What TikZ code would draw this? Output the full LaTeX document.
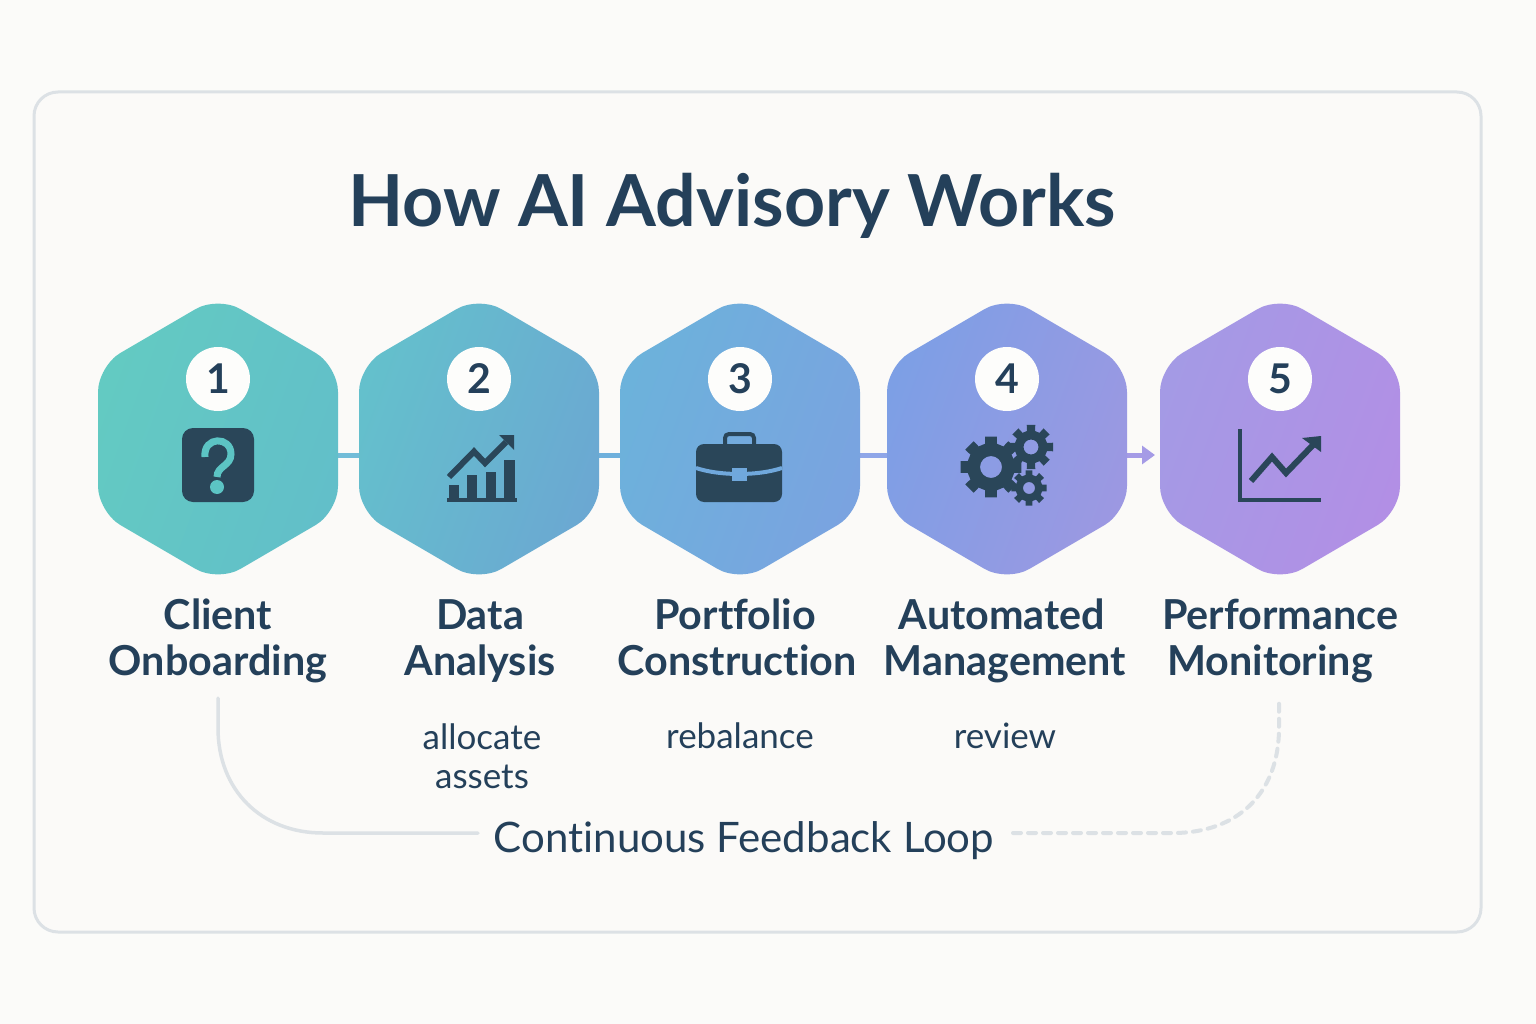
\documentclass[tikz,border=0pt]{standalone}
\usepackage{fontspec}
\setmainfont{Lato}
\newfontfamily\boldfont[Ligatures=NoCommon]{Lato Bold}
\newfontfamily\lightfont[Ligatures=NoCommon]{Lato}
\usetikzlibrary{calc,arrows.meta}
\definecolor{bgcol}{HTML}{FBFBF9}
\definecolor{panelcol}{HTML}{FBFAF8}
\definecolor{framecol}{HTML}{DCE1E5}
\definecolor{inkcol}{HTML}{24405A}
\definecolor{iconcol}{HTML}{2A4659}
\definecolor{discol}{HTML}{FDFDFB}
\definecolor{qcol}{HTML}{5CC4C4}
\definecolor{casecol}{HTML}{70A8DC}
\definecolor{linkA}{HTML}{72BCD8}
\definecolor{linkB}{HTML}{6FB0DC}
\definecolor{linkC}{HTML}{8FA6E8}
\definecolor{linkD}{HTML}{A59BE6}
\definecolor{hA}{HTML}{63CAC2}
\definecolor{hB}{HTML}{62BFC9}
\definecolor{hC}{HTML}{64C0CC}
\definecolor{hD}{HTML}{6BA8D2}
\definecolor{hE}{HTML}{6CB2DB}
\definecolor{hF}{HTML}{7AA3E0}
\definecolor{hG}{HTML}{7D9FE5}
\definecolor{hH}{HTML}{9C98E2}
\definecolor{hI}{HTML}{A49AE5}
\definecolor{hJ}{HTML}{B28FE5}
\tikzset{
  hexbox/.style={minimum width=240pt,minimum height=272pt,inner sep=0pt,outer sep=0pt},
  numdisc/.style={circle,fill=discol,minimum size=64pt,inner sep=0pt,text=inkcol,font=\boldfont\fontsize{41}{41}\selectfont},
  steplabel/.style={align=center,text=inkcol,inner sep=0pt,font=\boldfont\fontsize{41.3}{46}\selectfont},
  sublabel/.style={align=center,text=inkcol,inner sep=0pt,font=\lightfont\fontsize{35}{39}\selectfont},
  linkline/.style={line width=5pt},
  loopline/.style={draw=framecol,line width=3.5pt,line cap=round},
}
% hexagon: #1 node name, #2 left colour, #3 right colour
\newcommand{\hexshape}[3]{%
  \shade[left color=#2,right color=#3,shading angle=70,rounded corners=26pt]
    ($(#1.north)+(0,-7)$) -- ($(#1.north east)+(0,63)$) -- ($(#1.south east)+(0,-63)$)
    -- ($(#1.south)+(0,7)$) -- ($(#1.south west)+(0,-63)$) -- ($(#1.north west)+(0,63)$) -- cycle;
}
% gear: centre x, centre y, outer r, root r, hole r
\newcommand{\gearicon}[5]{%
  \begin{scope}[shift={(#1,#2)}]
  \fill[iconcol,even odd rule] (-14:#4)
    \foreach \a in {0,45,...,315} { -- ({\a-14}:#4) -- ({\a-11}:#3) -- ({\a+11}:#3) -- ({\a+14}:#4) -- ({\a+31}:#4) }
    -- cycle (0,0) circle [radius=#5];
  \end{scope}
}
\begin{document}
\begin{tikzpicture}[x=1pt,y=-1pt]
\useasboundingbox (0,0) rectangle (1536,1024);
\fill[bgcol] (0,0) rectangle (1536,1024);
\draw[draw=framecol,fill=panelcol,line width=3pt,rounded corners=24pt] (34,92) rectangle (1481,932);

\node[text=inkcol,inner sep=0pt,font=\boldfont\fontsize{71.7}{72}\selectfont] (title) at (732,206) {How AI Advisory Works};

\node[hexbox] (h1) at (218,439) {};
\node[hexbox] (h2) at (479,439) {};
\node[hexbox] (h3) at (740,439) {};
\node[hexbox] (h4) at (1007,439) {};
\node[hexbox] (h5) at (1280,439) {};

% connectors
\draw[linkline,draw=linkA] ([yshift=-16pt]h1.east) -- ([yshift=-16pt]h2.west);
\draw[linkline,draw=linkB] ([yshift=-16pt]h2.east) -- ([yshift=-16pt]h3.west);
\draw[linkline,draw=linkC] ([yshift=-16pt]h3.east) -- ([yshift=-16pt]h4.west);
\draw[linkline,draw=linkD,-{Triangle[length=13pt,width=18pt]}] ([yshift=-16pt]h4.east) -- ([yshift=-16pt,xshift=-5pt]h5.west);

\hexshape{h1}{hA}{hB}
\hexshape{h2}{hC}{hD}
\hexshape{h3}{hE}{hF}
\hexshape{h4}{hG}{hH}
\hexshape{h5}{hI}{hJ}

\node[numdisc] (n1) at (218,379) {1};
\node[numdisc] (n2) at (479,379) {2};
\node[numdisc] (n3) at (740,379) {3};
\node[numdisc] (n4) at (1007,379) {4};
\node[numdisc] (n5) at (1280,379) {5};

% icon 1: question mark
\fill[iconcol,rounded corners=11pt] (182,428) rectangle (254,502);
\draw[qcol,line width=7pt] (205,457) .. controls (203,436) and (231,436) .. (231,454)
   .. controls (231,466) and (217,466) .. (217,477);
\fill[qcol] (217,487) circle [radius=7];

% icon 2: bar chart
\fill[iconcol] (447,498) rectangle (517,502);
\fill[iconcol] (449,485) rectangle (459,499);
\fill[iconcol] (467,475) rectangle (477,499);
\fill[iconcol] (485.5,472) rectangle (495.5,499);
\fill[iconcol] (504,460) rectangle (515,499);
\draw[iconcol,line width=6pt] (449,477) -- (474,451.5) -- (485,463) -- (506,442);
\fill[iconcol] (499,435) -- (514,435) -- (514,450) -- cycle;

% icon 3: briefcase
\draw[iconcol,line width=4pt,rounded corners=4pt] (725,446) -- (725,434) -- (754,434) -- (754,446);
\fill[iconcol,rounded corners=8pt] (696,444) rectangle (782,502);
\draw[casecol,line width=4pt] (696,468) .. controls (720,476) and (758,476) .. (782,468);
\fill[casecol] (732,468) rectangle (747,481);

% icon 4: gears
\gearicon{991}{467}{31}{24}{11}
\gearicon{1031}{447}{22.5}{16.5}{7.5}
\gearicon{1029}{488}{18}{13.5}{6}

% icon 5: line chart
\draw[iconcol,line width=4.5pt] (1240,429) -- (1240,500) -- (1321,500);
\draw[iconcol,line width=6pt] (1251,481) -- (1272,457) -- (1286,473) -- (1313,445);
\fill[iconcol] (1302,438) -- (1321,436) -- (1321,452) -- cycle;

% labels
\node[steplabel] (l1) at (218,641) {Client\\Onboarding};
\node[steplabel] (l2) at (480,641) {Data\\Analysis};
\node[steplabel] (l3) at (737,641) {Portfolio\rule{4pt}{0pt}\\Construction\vphantom{g}};
\node[steplabel] (l4) at (1005,641) {Automated\rule{6pt}{0pt}\\Management};
\node[steplabel] (l5) at (1280,641) {Performance\\Monitoring\rule{20pt}{0pt}};

\node[sublabel] (s2) at (482,756) {allocate\\assets};
\node[sublabel] (s3) at (740,736) {rebalance};
\node[sublabel] (s4) at (1005,736) {review};
\node[text=inkcol,inner sep=0pt,font=\lightfont\fontsize{42}{42}\selectfont] (fb) at (744,841) {Continuous Feedback Loop};

% feedback loop
\coordinate (la) at (218,698);
\coordinate (lb) at (478,833);
\coordinate (lc) at (1013,833);
\coordinate (ld) at (1279,698);
\draw[loopline] (la) -- ++(0,30) .. controls ++(0,62) and ++(-62,0) .. ++(105,105) -- (lb);
\draw[loopline,line width=4pt,dash pattern=on 8pt off 7pt] (lc) -- ++(160,0) .. controls ++(65,0) and ++(0,65) .. ++(106,-105) -- (ld);
\end{tikzpicture}
\end{document}
